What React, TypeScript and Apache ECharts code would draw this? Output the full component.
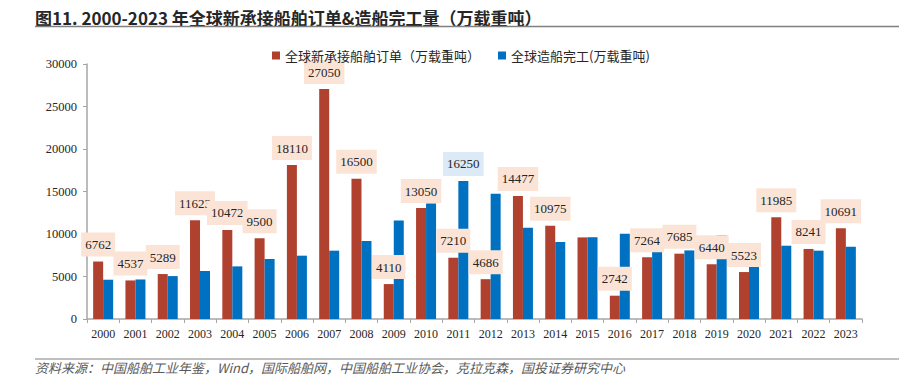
import React, { useEffect, useRef } from "react";
import * as echarts from "echarts";

const years = ["2000","2001","2002","2003","2004","2005","2006","2007","2008","2009","2010","2011","2012","2013","2014","2015","2016","2017","2018","2019","2020","2021","2022","2023"];
const newOrders = [6762,4537,5289,11623,10472,9500,18110,27050,16500,4110,13050,7210,4686,14477,10975,9600,2742,7264,7685,6440,5523,11985,8241,10691];
const completions = [4620,4650,5050,5650,6190,7060,7450,8040,9180,11600,13600,16250,14740,10740,9060,9620,10040,7920,8070,9850,8900,8620,8040,8500];
const unlabeledOrderYears = ["2015"];
const labeledCompletionYears = ["2011"];
const yTicks = { min: 0, max: 30000, interval: 5000 };

const seriesNames = ["全球新承接船舶订单（万载重吨）", "全球造船完工(万载重吨)"];
const titleText = "图11. 2000-2023 年全球新承接船舶订单&造船完工量（万载重吨）";
const sourceText = "资料来源：中国船舶工业年鉴，Wind，国际船舶网，中国船舶工业协会，克拉克森，国投证券研究中心";

const SERIF = "'Liberation Serif', 'DejaVu Serif', serif";
const CJK = "'Noto Sans CJK SC', sans-serif";

export default function App() {
  const ref = useRef<HTMLDivElement>(null);
  useEffect(() => {
    if (!ref.current) return;
    document.body.style.margin = "0";
    const chart = echarts.init(ref.current, undefined, { renderer: "svg" });
    const labelBase = {
      show: true,
      position: "top",
      distance: 5,
      fontFamily: SERIF,
      fontSize: 13,
      lineHeight: 14,
      color: "#262626",
      padding: [5, 4],
      formatter: (p: any) => String(p.value),
    };
    chart.setOption({
      animation: false,
      backgroundColor: "#ffffff",
      grid: { left: 87, right: 40, top: 64, bottom: 58, containLabel: false },
      legend: {
        top: 44,
        left: 267,
        itemWidth: 8,
        itemHeight: 8,
        itemGap: 18,
        icon: "rect",
        textStyle: { fontFamily: CJK, fontSize: 13, color: "#262626" },
        data: seriesNames,
      },
      xAxis: {
        type: "category",
        data: years,
        axisLine: { lineStyle: { color: "#a6a6a6", width: 1.5 } },
        axisTick: { show: true, length: 4, lineStyle: { color: "#a6a6a6" } },
        axisLabel: { fontFamily: SERIF, fontSize: 12, color: "#262626", margin: 9 },
      },
      yAxis: {
        type: "value",
        min: yTicks.min,
        max: yTicks.max,
        interval: yTicks.interval,
        axisLine: { show: true, lineStyle: { color: "#a6a6a6", width: 1.5 } },
        axisTick: { show: true, length: 4, lineStyle: { color: "#a6a6a6" } },
        splitLine: { show: false },
        axisLabel: {
          fontFamily: SERIF,
          fontSize: 12.5,
          color: "#262626",
          margin: 10,
          formatter: (v: number) => String(v),
        },
      },
      series: [
        {
          name: seriesNames[0],
          type: "bar",
          barWidth: 10,
          barGap: "0%",
          itemStyle: { color: "#b0412f" },
          data: newOrders.map((v, i) => ({
            value: v,
            label: {
              ...labelBase,
              show: !unlabeledOrderYears.includes(years[i]),
              backgroundColor: "#fbe4d6",
            },
          })),
        },
        {
          name: seriesNames[1],
          type: "bar",
          barWidth: 10,
          barGap: "0%",
          itemStyle: { color: "#0070c0" },
          data: completions.map((v, i) => ({
            value: v,
            label: {
              ...labelBase,
              show: labeledCompletionYears.includes(years[i]),
              backgroundColor: "#dce9f6",
            },
          })),
        },
      ],
      graphic: [
        {
          type: "text",
          x: 35,
          y: 17,
          style: { text: titleText, fontFamily: CJK, fontSize: 17, fontWeight: "bold", fill: "#262626", verticalAlign: "middle" },
        },
        {
          type: "line",
          shape: { x1: 35, y1: 26.5, x2: 899, y2: 26.5 },
          style: { stroke: "#808080", lineWidth: 1.5 },
        },
        {
          type: "line",
          shape: { x1: 35, y1: 359, x2: 899, y2: 359 },
          style: { stroke: "#808080", lineWidth: 1.2 },
        },
        {
          type: "text",
          x: 35,
          y: 367,
          style: { text: sourceText, fontFamily: CJK, fontSize: 13, fontStyle: "italic", fill: "#595959", verticalAlign: "middle" },
        },
      ],
    });
    return () => chart.dispose();
  }, []);
  return <div ref={ref} style={{ width: 902, height: 377 }} />;
}
